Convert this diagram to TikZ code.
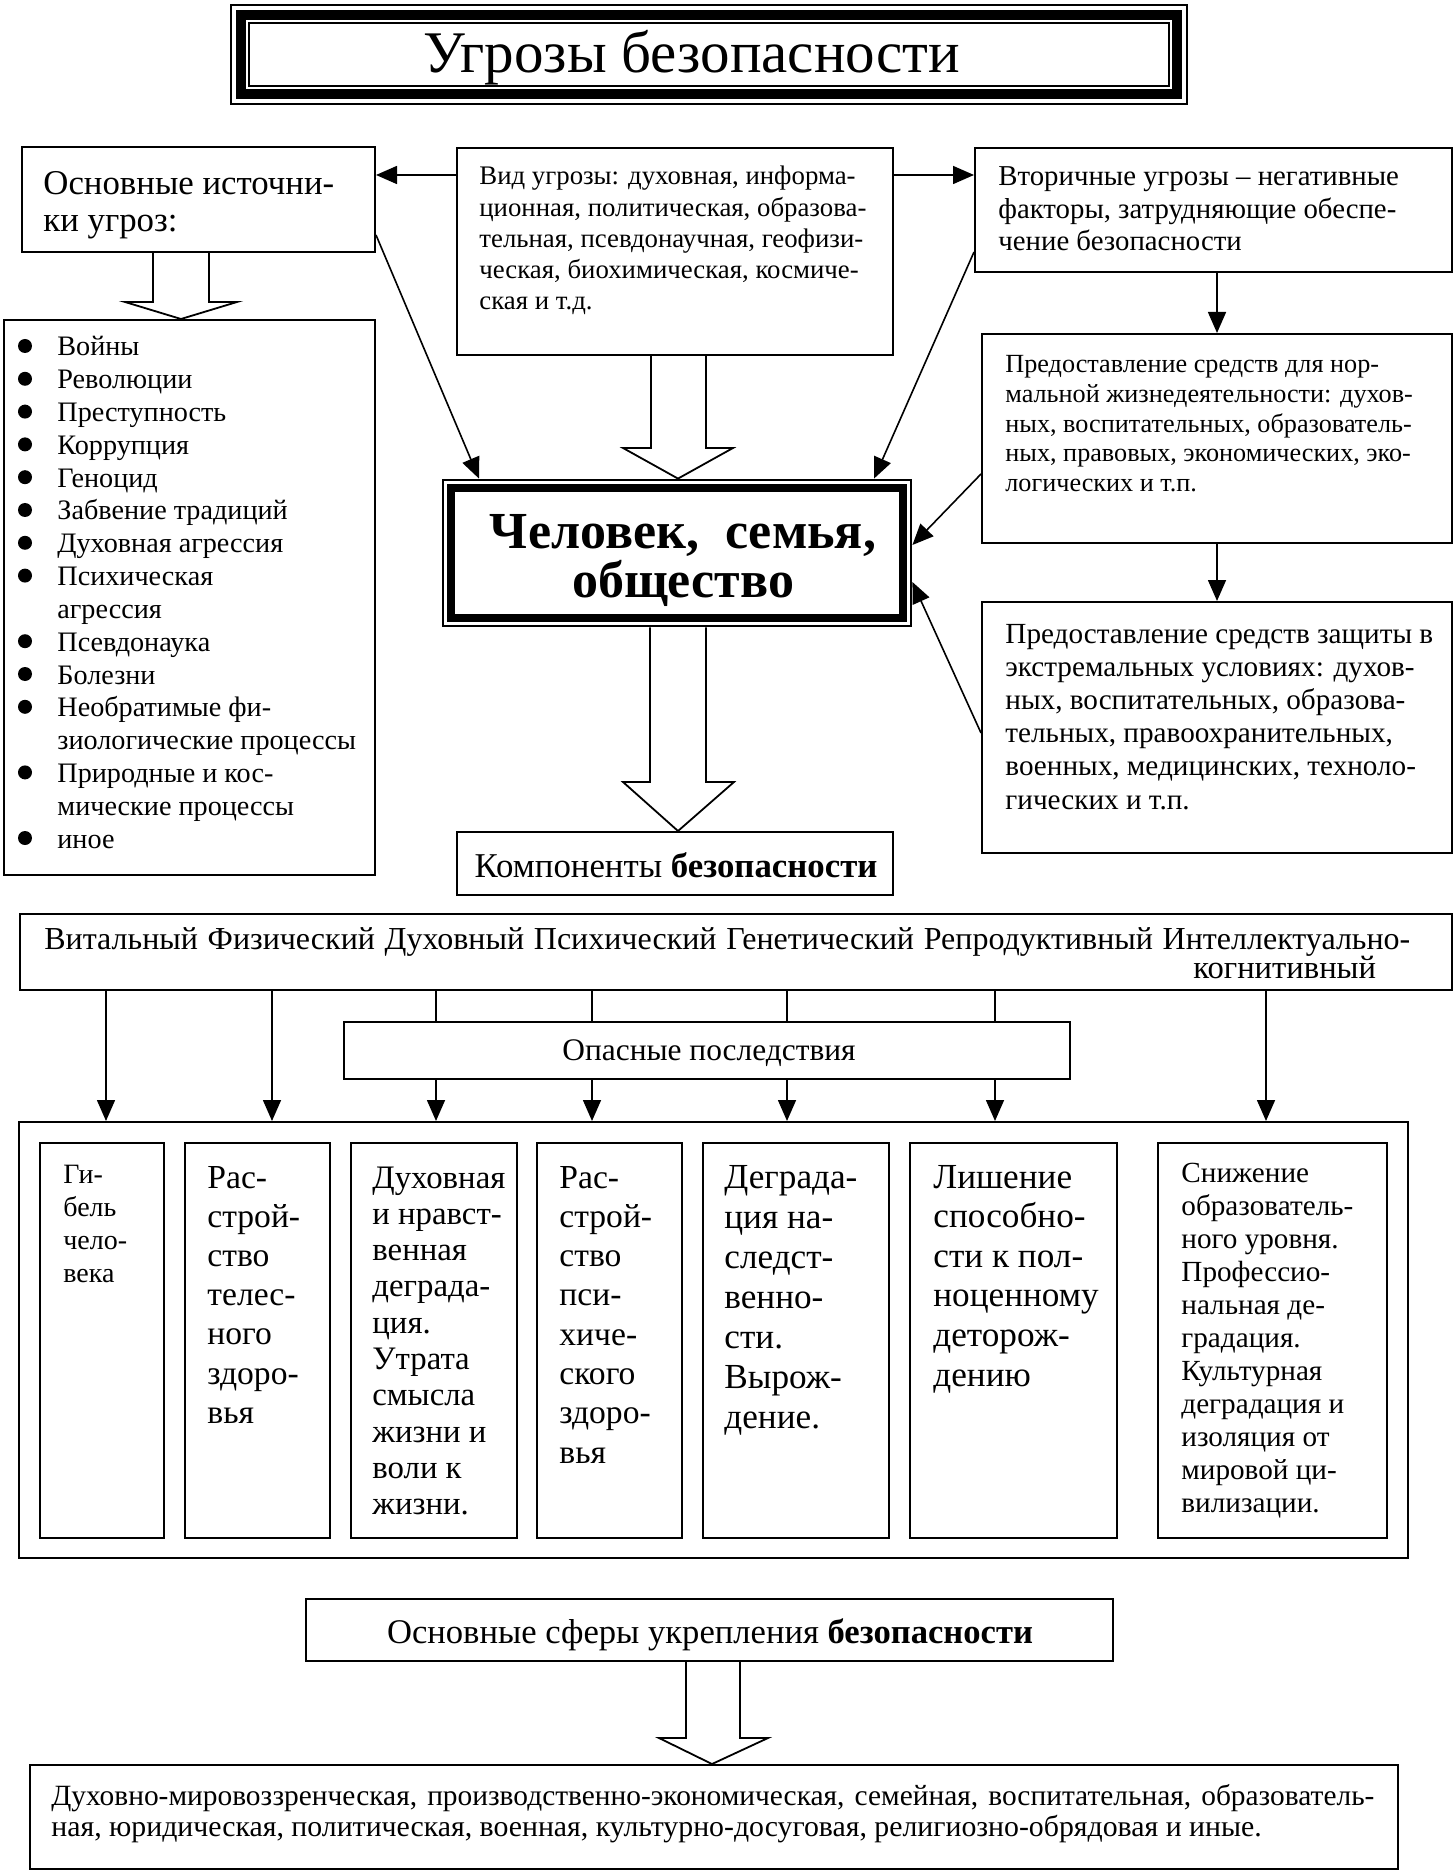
\documentclass[tikz,border=0pt]{standalone}
\usepackage{fontspec}
\setmainfont{Liberation Serif}
\usetikzlibrary{arrows.meta,fit,calc}
\newcommand{\myfs}[2]{\fontsize{#1}{#2}\selectfont}
\newcommand{\txtlines}[6]{%
  \foreach \lineitem [count=\i] in {#6} {%
    \node[anchor=base west, inner sep=0pt, font=#5] (#1\i) at (#2,{#3+(\i-1)*(#4)}) {\lineitem};
  }%
}
\begin{document}
\begin{tikzpicture}[x=0.5pt,y=-0.5pt,
  box/.style={draw, line width=1pt, inner sep=0pt},
  arr/.style={line width=0.8pt, -{Triangle[length=10.5pt,width=9pt]}},
  plain/.style={line width=0.8pt},
  hollow/.style={line width=0.9pt, line join=miter},
  bul/.style={circle, fill, inner sep=0pt, minimum size=7pt}
]
\useasboundingbox (0,0) rectangle (1454,1871);

% ---------- title ----------
\node[inner sep=0pt, fit={(230,4) (1188,105)}] (title) {};
\draw[line width=1pt] (231,5) rectangle (1187,104);
\draw[line width=5pt] (241,15) rectangle (1177,94);
\draw[line width=1pt] (249,23) rectangle (1169,86);
\node[anchor=base, inner sep=0pt, font=\myfs{29.5}{32}] (titletxt) at (692,73) {Угрозы безопасности};

% ---------- boxes ----------
\node[box, fit={(22,147) (375,252)}] (src) {};
\node[box, fit={(4,320) (375,875)}] (list) {};
\node[box, fit={(457,148) (893,355)}] (vid) {};
\node[box, fit={(975,148) (1452,272)}] (sec) {};
\node[box, fit={(982,334) (1452,543)}] (pa) {};
\node[box, fit={(982,602) (1452,853)}] (pb) {};
\node[inner sep=0pt, fit={(442,479) (912,627)}] (cen) {};
\draw[line width=1pt] (443,480) rectangle (911,626);
\draw[line width=4pt] (451,488) rectangle (903,618);
\node[box, fit={(457,832) (893,895)}] (komp) {};
\node[box, fit={(20,914) (1452,990)}] (comps) {};
\node[box, fit={(344,1022) (1070,1079)}] (opas) {};
\node[box, fit={(19,1122) (1408,1558)}] (big) {};
\node[box, fit={(40,1143) (164,1538)}] (ib1) {};
\node[box, fit={(185,1143) (330,1538)}] (ib2) {};
\node[box, fit={(351,1143) (517,1538)}] (ib3) {};
\node[box, fit={(537,1143) (682,1538)}] (ib4) {};
\node[box, fit={(703,1143) (889,1538)}] (ib5) {};
\node[box, fit={(910,1143) (1117,1538)}] (ib6) {};
\node[box, fit={(1158,1143) (1387,1538)}] (ib7) {};
\node[box, fit={(306,1599) (1113,1661)}] (sfer) {};
\node[box, fit={(30,1765) (1398,1869)}] (bot) {};

% ---------- texts ----------
\txtlines{srct}{43}{195}{37}{\myfs{17.4}{19}}{{Основные источни-},{ки угроз:}}

\txtlines{lt}{57}{356}{32.8}{\myfs{14.1}{16}}{Войны,Революции,Преступность,Коррупция,Геноцид,{Забвение традиций},{Духовная агрессия},Психическая,агрессия,Псевдонаука,Болезни,{Необратимые фи-},{зиологические процессы},{Природные и кос-},{мические процессы},иное}
\foreach \k in {0,1,2,3,4,5,6,7,9,10,11,13,15}{
  \node[bul] (bul\k) at (25,{346+\k*32.8}) {};
}

\txtlines{vt}{479}{185}{31.2}{\myfs{13.4}{15}}{{Вид угрозы: духовная, информа-},{ционная, политическая, образова-},{тельная, псевдонаучная, геофизи-},{ческая, биохимическая, космиче-},{ская и т.д.}}

\txtlines{st}{998}{186}{32.5}{\myfs{14.4}{16}}{{Вторичные угрозы – негативные},{факторы, затрудняющие обеспе-},{чение безопасности}}

\txtlines{pat}{1005}{373}{29.6}{\myfs{13.1}{15}}{{Предоставление средств для нор-},{мальной жизнедеятельности: духов-},{ных, воспитательных, образователь-},{ных, правовых, экономических, эко-},{логических и т.п.}}

\txtlines{pbt}{1005}{643}{33.2}{\myfs{14.6}{16.5}}{{Предоставление средств защиты в},{экстремальных условиях: духов-},{ных, воспитательных, образова-},{тельных, правоохранительных,},{военных, медицинских, техноло-},{гических и т.п.}}

\node[anchor=base, inner sep=0pt, font=\bfseries\myfs{26}{20}] (cent1) at (683,548) {Человек,\ \ семья,};
\node[anchor=base, inner sep=0pt, font=\bfseries\myfs{26}{20}] (cent2) at (683,597) {общество};

\node[anchor=base, inner sep=0pt, font=\myfs{17.4}{19}] (kompt) at (676,877) {Компоненты \textbf{безопасности}};

\node[anchor=base west, inner sep=0pt, font=\myfs{16}{18}] (compt1) at (44,949) {\makebox[683pt][s]{Витальный Физический Духовный Психический Генетический Репродуктивный Интеллектуально-}};
\node[anchor=base west, inner sep=0pt, font=\myfs{16.3}{18}] (compt2) at (1193,978) {когнитивный};

\node[anchor=base, inner sep=0pt, font=\myfs{15.7}{18}] (opast) at (709,1060) {Опасные последствия};

\txtlines{ia}{63}{1183}{33}{\myfs{14}{16}}{Ги-,бель,чело-,века}
\txtlines{ib}{207}{1188}{39.2}{\myfs{16.8}{19}}{Рас-,строй-,ство,телес-,ного,здоро-,вья}
\txtlines{ic}{372}{1188}{36.3}{\myfs{16.4}{18}}{Духовная,{и нравст-},венная,деграда-,ция.,Утрата,смысла,{жизни и},{воли к},жизни.}
\txtlines{id}{559}{1188}{39.3}{\myfs{16.8}{19}}{Рас-,строй-,ство,пси-,хиче-,ского,здоро-,вья}
\txtlines{ie}{724}{1188}{40}{\myfs{17.6}{20}}{Деграда-,{ция на-},следст-,венно-,сти.,Вырож-,дение.}
\txtlines{if}{933}{1188}{39.6}{\myfs{17.6}{20}}{Лишение,способно-,{сти к пол-},ноценному,деторож-,дению}
\txtlines{ig}{1181}{1182}{33}{\myfs{14.6}{16}}{Снижение,образователь-,{ного уровня.},Профессио-,{нальная де-},градация.,Культурная,{деградация и},{изоляция от},{мировой ци-},вилизации.}

\node[anchor=base, inner sep=0pt, font=\myfs{17.3}{19}] (sfert) at (710,1643) {Основные сферы укрепления \textbf{безопасности}};

\node[anchor=base west, inner sep=0pt, font=\myfs{14.7}{16}] (bott1) at (51,1805) {\makebox[661.5pt][s]{Духовно-мировоззренческая,  производственно-экономическая,  семейная,  воспитательная,  образователь-}};
\node[anchor=base west, inner sep=0pt, font=\myfs{14.9}{16}] (bott2) at (51,1836) {ная, юридическая, политическая, военная, культурно-досуговая, религиозно-обрядовая и иные.};

% ---------- hollow arrows ----------
\draw[hollow] (src.south -| 153,0) -- (153,302) -- (125,302) -- (list.north -| 181,0) -- (237,302) -- (209,302) -- (src.south -| 209,0);
\draw[hollow] (vid.south -| 651,0) -- (651,448) -- (623,448) -- (cen.north -| 678,0) -- (733,448) -- (706,448) -- (vid.south -| 706,0);
\draw[hollow] (cen.south -| 650,0) -- (650,782) -- (623,782) -- (komp.north -| 678,0) -- (734,782) -- (706,782) -- (cen.south -| 706,0);
\draw[hollow] (sfer.south -| 686,0) -- (686,1738) -- (659,1738) -- (bot.north -| 712,0) -- (768,1738) -- (740,1738) -- (sfer.south -| 740,0);

% ---------- arrows ----------
\draw[arr] (vid.west |- 0,175) -- (src.east |- 0,175);
\draw[arr] (vid.east |- 0,175) -- (sec.west |- 0,175);
\draw[arr] (src.east |- 0,235) -- (cen.north -| 479,0);
\draw[arr] (sec.west |- 0,252) -- (cen.north -| 874,0);
\draw[arr] (pa.west |- 0,474) -- (cen.east |- 0,545);
\draw[arr] (pb.west |- 0,733) -- (cen.east |- 0,582);
\draw[arr] (sec.south -| 1217,0) -- (pa.north -| 1217,0);
\draw[arr] (pa.south -| 1217,0) -- (pb.north -| 1217,0);

\foreach \xx in {106,272,1266}{
  \draw[arr] (comps.south -| \xx,0) -- (big.north -| \xx,0);
}
\foreach \xx in {436,592,787,995}{
  \draw[plain] (comps.south -| \xx,0) -- (opas.north -| \xx,0);
  \draw[arr] (opas.south -| \xx,0) -- (big.north -| \xx,0);
}
\end{tikzpicture}
\end{document}
